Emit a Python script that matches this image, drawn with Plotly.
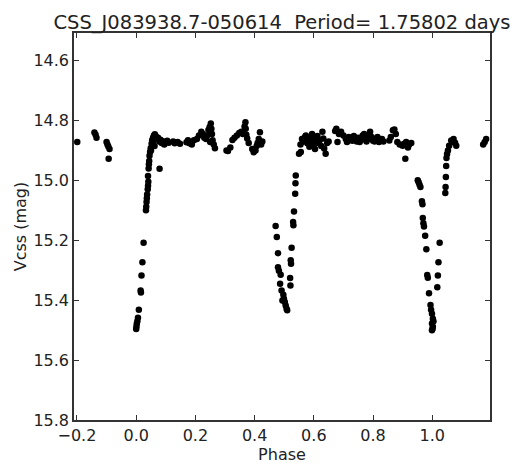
import plotly.graph_objects as go

# Phase-folded light curve
phase = [
    -0.199, -0.141, -0.137, -0.134, -0.100, -0.097, -0.094, -0.090, -0.093,
    0.000, 0.001, 0.002, 0.004, 0.006, 0.009, 0.015, 0.016, 0.018, 0.021, 0.025,
    0.033, 0.034, 0.035, 0.036, 0.037, 0.039, 0.040, 0.041, 0.040, 0.042, 0.043,
    0.044, 0.045, 0.047, 0.049, 0.052, 0.054, 0.057, 0.060, 0.063, 0.066, 0.070,
    0.074, 0.078, 0.082, 0.086, 0.090, 0.056, 0.062, 0.050, 0.079, 0.095, 0.100,
    0.105, 0.110, 0.125, 0.130, 0.140, 0.148, 0.170, 0.175, 0.180, 0.188,
    0.195, 0.205, 0.212, 0.220, 0.225, 0.230, 0.236, 0.240, 0.244, 0.248, 0.252,
    0.254, 0.256, 0.258, 0.262, 0.266, 0.250,
    0.305, 0.310, 0.318, 0.325, 0.332, 0.340, 0.348, 0.355, 0.360, 0.366, 0.369,
    0.370, 0.372, 0.375, 0.380, 0.392, 0.397, 0.403, 0.407, 0.410, 0.414, 0.418,
    0.422, 0.426,
    0.471, 0.475, 0.479, 0.479, 0.482, 0.488, 0.486, 0.491, 0.497, 0.494, 0.502,
    0.505, 0.508, 0.510, 0.499, 0.520, 0.521, 0.522, 0.523, 0.525, 0.530, 0.531,
    0.533, 0.537, 0.538, 0.539, 0.550, 0.556,
    0.555, 0.560, 0.565, 0.570, 0.573, 0.578, 0.582, 0.585, 0.590, 0.594, 0.596,
    0.600, 0.604, 0.608, 0.612, 0.615, 0.620, 0.625, 0.629, 0.632, 0.635, 0.640,
    0.645, 0.650,
    0.672, 0.676, 0.680, 0.685, 0.692, 0.700, 0.708, 0.712, 0.718, 0.725, 0.730,
    0.735, 0.740, 0.745, 0.750, 0.755, 0.760, 0.765, 0.770, 0.775, 0.778, 0.782,
    0.785, 0.790, 0.795, 0.800, 0.805, 0.810, 0.815, 0.820, 0.825, 0.830, 0.835,
    0.855, 0.860, 0.867, 0.872, 0.877, 0.882, 0.890, 0.900, 0.905, 0.912, 0.918,
    0.922, 0.929, 0.909,
    0.951, 0.954, 0.957, 0.960, 0.965, 0.967, 0.968, 0.970, 0.972, 0.976, 0.980,
    0.983, 0.985, 0.989, 0.994, 0.996, 0.999, 1.002, 1.004, 0.999, 1.002, 0.999,
    1.001,
    1.017, 1.019, 1.021, 1.025, 1.044, 1.045, 1.046, 1.047, 1.048, 1.050, 1.053,
    1.057, 1.064, 1.068, 1.072, 1.077, 1.081,
    1.172, 1.177, 1.182,
]
mag = [
    14.872, 14.840, 14.848, 14.858, 14.872, 14.880, 14.887, 14.895, 14.928,
    15.496, 15.488, 15.479, 15.470, 15.459, 15.432, 15.368, 15.374, 15.318, 15.273, 15.208,
    15.100, 15.088, 15.072, 15.060, 15.047, 15.030, 15.018, 15.005, 14.985, 14.960, 14.946,
    14.935, 14.918, 14.905, 14.893, 14.878, 14.866, 14.858, 14.850, 14.846, 14.852, 14.862,
    14.858, 14.870, 14.864, 14.875, 14.869, 14.876, 14.885, 14.900, 14.961, 14.880, 14.872,
    14.868, 14.874, 14.870, 14.876, 14.872, 14.878, 14.873, 14.866, 14.876, 14.880,
    14.866, 14.862, 14.850, 14.838, 14.845, 14.858, 14.862, 14.850, 14.832, 14.822, 14.810,
    14.828, 14.845, 14.866, 14.880, 14.893, 14.872,
    14.900, 14.902, 14.890, 14.865, 14.858, 14.850, 14.842, 14.838, 14.845, 14.820, 14.806,
    14.828, 14.848, 14.860, 14.875, 14.895, 14.906, 14.900, 14.885, 14.875, 14.862, 14.839,
    14.880, 14.870,
    15.152, 15.189, 15.243, 15.290, 15.302, 15.315, 15.345, 15.368, 15.382, 15.401, 15.406,
    15.418, 15.429, 15.434, 15.395, 15.326, 15.351, 15.267, 15.278, 15.225, 15.139, 15.150,
    15.104, 15.045, 15.010, 14.984, 14.911, 14.905,
    14.880, 14.862, 14.870, 14.855, 14.850, 14.876, 14.865, 14.888, 14.858, 14.845, 14.870,
    14.880, 14.895, 14.862, 14.852, 14.875, 14.866, 14.885, 14.838, 14.860, 14.894, 14.911,
    14.875, 14.870,
    14.835, 14.828, 14.872, 14.845, 14.838, 14.850, 14.862, 14.872, 14.855, 14.860, 14.868,
    14.852, 14.862, 14.870, 14.858, 14.872, 14.865, 14.850, 14.845, 14.860, 14.870, 14.862,
    14.850, 14.838, 14.855, 14.868, 14.870, 14.862, 14.855, 14.872, 14.866, 14.862, 14.870,
    14.867, 14.855, 14.833, 14.830, 14.845, 14.872, 14.880, 14.884, 14.878, 14.872, 14.890,
    14.880, 14.875, 14.928,
    15.000, 15.006, 15.015, 15.022, 15.070, 15.080, 15.126, 15.143, 15.154, 15.185, 15.230,
    15.316, 15.325, 15.377, 15.416, 15.432, 15.445, 15.462, 15.470, 15.478, 15.489, 15.500,
    15.495,
    15.357, 15.318, 15.273, 15.208, 15.042, 15.022, 14.989, 14.952, 14.925, 14.912, 14.900,
    14.884, 14.867, 14.872, 14.862, 14.874, 14.884,
    14.880, 14.872, 14.862,
]

x_ticks = [-0.2, 0.0, 0.2, 0.4, 0.6, 0.8, 1.0]
y_ticks = [14.6, 14.8, 15.0, 15.2, 15.4, 15.6, 15.8]
title_text = "CSS_J083938.7-050614\u00a0\u00a0Period= 1.75802 days"

FONT = "DejaVu Sans"
TXT = "#222222"

fig = go.Figure(
    go.Scatter(
        x=phase, y=mag, mode="markers",
        marker=dict(color="black", size=6.5, line=dict(width=0)),
        hoverinfo="skip",
    )
)

axis_common = dict(
    showline=True, linecolor="#333333", linewidth=1.5, mirror="ticks",
    ticks="inside", ticklen=5, tickwidth=1.2, tickcolor="#333333",
    showgrid=False, zeroline=False,
    tickfont=dict(family=FONT, size=16, color=TXT),
)

fig.update_layout(
    width=519, height=471,
    margin=dict(l=74, r=29, t=33, b=51),
    plot_bgcolor="white", paper_bgcolor="white",
    showlegend=False,
    title=dict(
        text=title_text, x=0.5, xref="paper", xanchor="center",
        y=1 - 22 / 471, yref="container", yanchor="middle",
        font=dict(family=FONT, size=19.5, color=TXT),
    ),
    xaxis=dict(
        range=[-0.21, 1.195], tickvals=x_ticks,
        ticktext=[f"{v:.1f}".replace("-", "\u2212") for v in x_ticks],
        title=dict(text="Phase", font=dict(family=FONT, size=16, color=TXT), standoff=2),
        **axis_common,
    ),
    yaxis=dict(
        range=[15.8, 14.508], tickvals=y_ticks,
        ticktext=[f"{v:.1f}" for v in y_ticks],
        title=dict(text="Vcss (mag)", font=dict(family=FONT, size=16, color=TXT), standoff=3),
        **axis_common,
    ),
)

fig.write_html("out.html")
